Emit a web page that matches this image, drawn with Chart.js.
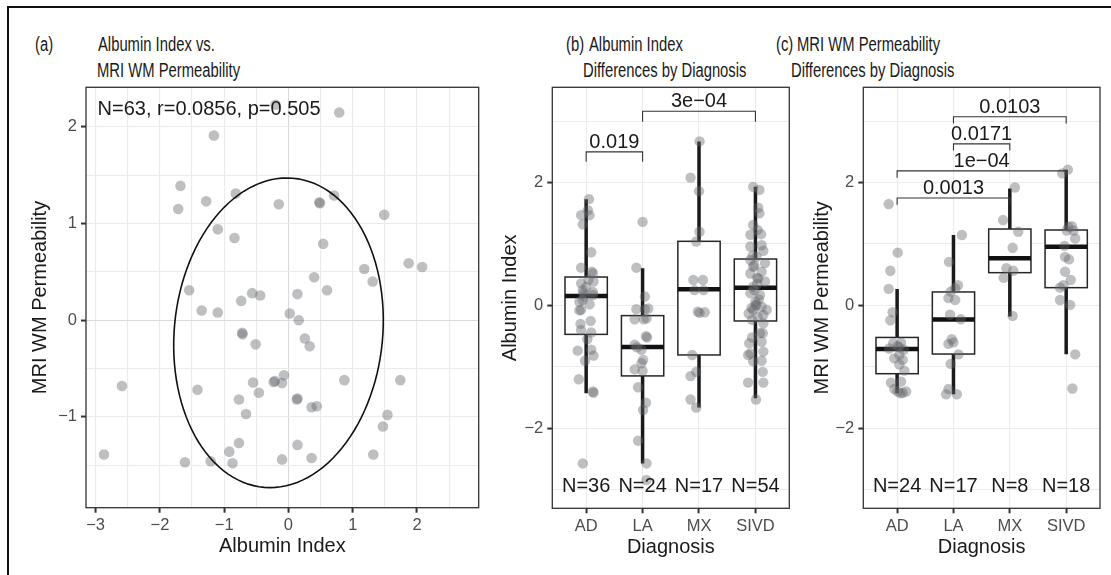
<!DOCTYPE html>
<html>
<head>
<meta charset="utf-8">
<script src="https://cdn.jsdelivr.net/npm/chart.js@4.4.1/dist/chart.umd.min.js"></script>
<style>
    html, body { margin: 0; padding: 0; background: #fff; }
    body { width: 1111px; height: 575px; position: relative; overflow: hidden; }
    #frame { position: absolute; left: 7px; top: 6px; width: 1200px; height: 700px; border-left: 2px solid #111; border-top: 2px solid #111; }
    canvas { position: absolute; top: 0; }
    .ttl { position: absolute; font-family: "Liberation Sans", Arial, sans-serif; font-size: 20px; color: #1a1a1a; white-space: pre; line-height: 26px; transform: scaleX(0.74); transform-origin: 0 0; }
</style>
</head>
<body>
<div id="frame"></div>
<div class="ttl" style="left:35px; top:31px;">(a)</div>
<div class="ttl" style="left:98px; top:31px;">Albumin Index vs.</div>
<div class="ttl" style="left:97px; top:57px;">MRI WM Permeability</div>
<div class="ttl" style="left:566px; top:31px;">(b)</div>
<div class="ttl" style="left:589px; top:31px;">Albumin Index</div>
<div class="ttl" style="left:583px; top:57px;">Differences by Diagnosis</div>
<div class="ttl" style="left:776px; top:31px;">(c)</div>
<div class="ttl" style="left:797px; top:31px;">MRI WM Permeability</div>
<div class="ttl" style="left:791px; top:57px;">Differences by Diagnosis</div>

<canvas id="chartA" width="490" height="575" style="left:0px;"></canvas>
<canvas id="chartB" width="310" height="575" style="left:490px;"></canvas>
<canvas id="chartC" width="311" height="575" style="left:800px;"></canvas>

<script>
// ---- Panel (a) data: Albumin Index vs MRI WM Permeability ----
const scatterX = [-0.20, 0.79, -1.16, -1.68, -1.28, -1.715, -0.82, -0.15, 0.48, 0.49,
    0.71, -1.10, -0.84, 0.54, 0.40, 0.60, -1.545, -0.565, -0.44, -0.735,
    0.14, -1.35, -1.10, 0.02, 0.16, 1.49, 1.18, 1.31, 1.87, 2.08,
    -0.715, -0.72, -0.51, 0.255, 0.33, -2.59, -1.415, -0.55, -0.23, -0.21,
    -0.10, -0.07, -0.46, -0.77, 0.13, 0.14, 0.36, 0.44, -0.66, 0.87,
    -0.77, -0.92, -0.87, -1.21, -1.61, -2.87, -0.10, 0.14, 0.36, 1.74,
    1.54, 1.47, 1.32];
const scatterY = [2.23, 2.15, 1.91, 1.39, 1.23, 1.15, 1.31, 1.20, 1.22, 1.21,
    1.29, 0.94, 0.85, 0.79, 0.445, 0.31, 0.31, 0.28, 0.255, 0.20,
    0.27, 0.10, 0.08, 0.07, 0.00, 1.09, 0.53, 0.40, 0.59, 0.55,
    -0.145, -0.13, -0.25, -0.19, -0.27, -0.68, -0.72, -0.645, -0.64, -0.63,
    -0.65, -0.57, -0.75, -0.82, -0.82, -0.81, -0.90, -0.89, -0.97, -0.62,
    -1.27, -1.36, -1.48, -1.46, -1.47, -1.39, -1.44, -1.29, -1.425, -0.62,
    -0.98, -1.10, -1.39];
const statLabel = 'N=63, r=0.0856, p=0.505';
const statLabelPos = [-2.97, 2.18];
// data ellipse: centre and two half-axis vectors (data units)
const ellipseCenter = [-0.155, -0.13];
const ellipseAxisU = [1.63, 0.08];
const ellipseAxisV = [0.05, 1.60];
const aXTicks = [-3, -2.5, -2, -1.5, -1, -0.5, 0, 0.5, 1, 1.5, 2, 2.5];
const aYTicks = [-1.5, -1, -0.5, 0, 0.5, 1, 1.5, 2];
const aMajor = [-3, -2, -1, 0, 1, 2];

// ---- Panels (b), (c): by diagnosis ----
const diagCats = ['AD', 'LA', 'MX', 'SIVD'];
const boxYTicks = [-3, -2, -1, 0, 1, 2, 3];
const boxMajor = [-2, 0, 2];

// (b) Albumin Index: values and horizontal jitter
const albAD = [1.73, 1.47, 1.47, 1.32, 1.55, 0.865, 0.615, 0.52, 0.36, 0.39,
    0.25, 0.06, -0.07, 0.17, 0.09, -0.08, 0.22, -0.40, -0.44, -0.735,
    -0.72, -0.815, -1.20, -1.40, -1.42, -2.57, 0.30, 0.15, 0.42, -0.25,
    -0.30, -0.55, 0.20, 0.55, -0.90, 0.02];
const albADJit = [0.05, -0.09, 0.06, -0.06, 0.03, 0.09, -0.09, 0.12, -0.09, 0.13,
    -0.06, -0.12, -0.09, 0.12, -0.06, -0.12, 0.12, -0.09, 0.09, -0.15,
    0.09, 0.13, -0.13, 0.12, 0.13, -0.06, 0.00, -0.03, 0.04, 0.08,
    -0.10, 0.02, -0.05, 0.10, -0.02, 0.06];
const albLA = [1.36, 0.615, 0.145, -0.06, -0.06, -0.225, -0.225, -0.21, -0.50, -0.52,
    -0.64, -0.72, -0.885, -0.94, -1.04, -1.065, -1.33, -1.58, -1.70, -2.20,
    -2.57, -2.84, -0.68, -0.05];
const albLAJit = [0.00, -0.11, 0.04, -0.11, 0.04, -0.14, 0.02, 0.07, 0.06, 0.08,
    -0.14, -0.02, 0.01, -0.02, -0.14, 0.00, -0.08, 0.06, 0.01, -0.08,
    0.07, 0.07, -0.10, 0.10];
const albMX = [2.67, 2.08, 1.86, 1.20, 1.04, 0.415, 0.415, 0.25, 0.25, -0.10,
    -0.12, -0.11, -0.805, -1.08, -1.15, -1.53, -1.66];
const albMXJit = [0.01, -0.15, 0.00, 0.01, -0.05, -0.10, 0.07, -0.08, 0.08, -0.02,
    0.01, 0.10, -0.12, -0.05, -0.15, -0.15, -0.05];
const albSIVD = [1.93, 1.88, 1.59, 1.50, 1.31, 1.23, 1.15, 1.16, 0.96, 0.98,
    0.89, 0.81, 0.79, 0.74, 0.69, 0.63, 0.55, 0.52, 0.44, 0.39,
    0.305, 0.20, 0.17, 0.06, -0.02, -0.07, -0.07, -0.13, -0.18, 0.01,
    -0.155, -0.235, -0.29, -0.45, -0.52, -0.45, -0.615, -0.59, -0.78, -0.75,
    -0.805, -0.91, -0.90, -1.08, -1.255, -1.255, -1.53, 0.35, 0.25, 0.10,
    -0.04, 0.45, 0.65, 0.00];
const albSIVDJit = [-0.04, 0.07, 0.05, 0.07, -0.04, 0.04, -0.09, 0.10, -0.09, 0.11,
    0.14, -0.05, 0.02, -0.09, 0.17, -0.04, 0.11, -0.09, 0.05, 0.17,
    -0.04, -0.09, 0.08, 0.00, 0.11, -0.04, 0.20, -0.12, 0.04, 0.02,
    0.14, -0.06, 0.14, 0.08, -0.06, 0.13, -0.11, 0.11, -0.09, 0.14,
    -0.13, -0.04, 0.11, 0.13, -0.13, 0.14, 0.01, 0.03, -0.02, 0.06,
    -0.07, 0.03, -0.02, 0.00];
// box stats (b)
const albLow = [-1.43, -2.57, -1.66, -1.51];
const albQ1 = [-0.47, -1.146, -0.805, -0.252];
const albMed = [0.154, -0.675, 0.263, 0.29];
const albQ3 = [0.463, -0.165, 1.044, 0.756];
const albHigh = [1.73, 0.605, 2.67, 1.93];
const albN = [36, 24, 17, 54];
// brackets (b): [from cat, to cat, bar y, tip y, label]
const albBrackets = [[1, 2, 2.50, 2.34, '0.019'], [2, 4, 3.16, 2.99, '3e\u221204']];

// (c) MRI WM Permeability
const permAD = [1.65, 0.86, 0.565, 0.27, -0.11, -0.24, -0.615, -0.605, -0.66, -0.70,
    -0.805, -0.885, -0.86, -0.96, -1.06, -1.255, -1.24, -1.40, -1.42, -1.40,
    -1.36, -1.43, -0.68, -0.72];
const permADJit = [-0.15, 0.01, -0.12, -0.15, -0.08, -0.12, -0.07, 0.07, 0.01, -0.14,
    0.04, 0.10, -0.05, 0.04, 0.13, -0.11, 0.07, 0.01, 0.10, 0.16,
    -0.05, 0.06, 0.03, 0.12];
const permLA = [1.146, 0.71, 0.33, 0.28, 0.225, 0.12, 0.09, -0.225, -0.15, -0.55,
    -0.60, -0.625, -0.795, -0.95, -1.36, -1.445, -1.445];
const permLAJit = [0.15, -0.08, 0.08, 0.03, -0.05, -0.09, 0.03, 0.13, -0.06, -0.03,
    0.00, -0.09, 0.09, -0.05, -0.09, -0.13, 0.06];
const permMX = [1.92, 1.39, 1.20, 0.94, 0.605, 0.565, 0.45, -0.17];
const permMXJit = [0.09, -0.12, 0.15, 0.05, -0.06, 0.06, -0.11, 0.05];
const permSIVD = [2.15, 2.21, 1.28, 1.29, 1.22, 1.22, 1.09, 0.79, 0.55, 0.415,
    0.29, 0.33, 0.09, 0.01, -0.795, -1.35, 0.97, 0.75];
const permSIVDJit = [-0.07, 0.03, 0.04, 0.10, 0.01, 0.13, 0.16, -0.02, -0.02, 0.08,
    -0.11, -0.05, -0.11, 0.07, 0.16, 0.11, -0.03, 0.05];
const permLow = [-1.43, -1.445, -0.18, -0.795];
const permQ1 = [-1.11, -0.79, 0.534, 0.29];
const permMed = [-0.71, -0.23, 0.767, 0.956];
const permQ3 = [-0.52, 0.22, 1.244, 1.228];
const permHigh = [0.27, 1.146, 1.905, 2.21];
const permN = [24, 17, 8, 18];
const permBrackets = [[2, 4, 3.07, 2.96, '0.0103'], [2, 3, 2.63, 2.52, '0.0171'],
    [1, 4, 2.19, 2.08, '1e\u221204'], [1, 3, 1.75, 1.64, '0.0013']];
const nLabelY = -2.94;

// ---- Styling ----
const FONT = '"Liberation Sans", Arial, sans-serif';
const TEXT = '#1a1a1a';
const TICK_TEXT = '#4d4d4d';
const GRID = '#ebebeb';
const POINT = 'rgba(100, 102, 108, 0.42)';

function fmt(v) {
    return String(v).replace('-', '\u2212');
}

function toPoints(vals, jit, cat) {
    return vals.map((v, i) => ({ x: cat + jit[i], y: v }));
}

// Panel border
const framePlugin = {
    id: 'frame',
    afterDraw(chart) {
        const a = chart.chartArea;
        const ctx = chart.ctx;
        ctx.save();
        ctx.strokeStyle = '#333';
        ctx.lineWidth = 1.3;
        ctx.strokeRect(a.left, a.top, a.right - a.left, a.bottom - a.top);
        ctx.restore();
    }
};

// Ellipse + stats label for (a)
const ellipsePlugin = {
    id: 'ellipse',
    afterDatasetsDraw(chart) {
        const xs = chart.scales.x, ys = chart.scales.y;
        const ctx = chart.ctx;
        ctx.save();
        ctx.beginPath();
        for (let k = 0; k <= 120; k++) {
            const t = k / 120 * Math.PI * 2;
            const dx = ellipseCenter[0] + ellipseAxisU[0] * Math.cos(t) + ellipseAxisV[0] * Math.sin(t);
            const dy = ellipseCenter[1] + ellipseAxisU[1] * Math.cos(t) + ellipseAxisV[1] * Math.sin(t);
            const px = xs.getPixelForValue(dx), py = ys.getPixelForValue(dy);
            if (k === 0) ctx.moveTo(px, py); else ctx.lineTo(px, py);
        }
        ctx.closePath();
        ctx.strokeStyle = '#111';
        ctx.lineWidth = 1.6;
        ctx.stroke();

        ctx.fillStyle = TEXT;
        ctx.font = '20px ' + FONT;
        ctx.textAlign = 'left';
        ctx.textBaseline = 'middle';
        ctx.fillText(statLabel, xs.getPixelForValue(statLabelPos[0]), ys.getPixelForValue(statLabelPos[1]));
        ctx.restore();
    }
};

// Box plots, brackets and N labels for (b), (c)
function boxPlugin(low, q1, med, q3, high, nArr, brackets) {
    return {
        id: 'boxes',
        beforeDatasetsDraw(chart) {
            const xs = chart.scales.x, ys = chart.scales.y;
            const ctx = chart.ctx;
            const half = (xs.getPixelForValue(1.375) - xs.getPixelForValue(1));
            ctx.save();
            for (let i = 0; i < diagCats.length; i++) {
                const cx = xs.getPixelForValue(i + 1);
                const yQ1 = ys.getPixelForValue(q1[i]), yQ3 = ys.getPixelForValue(q3[i]);
                // whiskers
                ctx.strokeStyle = '#1a1a1a';
                ctx.lineWidth = 3.5;
                ctx.beginPath();
                ctx.moveTo(cx, ys.getPixelForValue(high[i]));
                ctx.lineTo(cx, yQ3);
                ctx.moveTo(cx, yQ1);
                ctx.lineTo(cx, ys.getPixelForValue(low[i]));
                ctx.stroke();
                // box
                ctx.fillStyle = '#fff';
                ctx.fillRect(cx - half, yQ3, half * 2, yQ1 - yQ3);
                ctx.lineWidth = 1.5;
                ctx.strokeStyle = '#262626';
                ctx.strokeRect(cx - half, yQ3, half * 2, yQ1 - yQ3);
                // median
                ctx.lineWidth = 4.5;
                ctx.strokeStyle = '#111';
                ctx.beginPath();
                const ym = ys.getPixelForValue(med[i]);
                ctx.moveTo(cx - half, ym);
                ctx.lineTo(cx + half, ym);
                ctx.stroke();
            }
            ctx.restore();
        },
        afterDatasetsDraw(chart) {
            const xs = chart.scales.x, ys = chart.scales.y;
            const ctx = chart.ctx;
            ctx.save();
            ctx.font = '20px ' + FONT;
            ctx.fillStyle = TEXT;
            ctx.textAlign = 'center';
            ctx.textBaseline = 'middle';
            nArr.forEach((n, i) => {
                ctx.fillText('N=' + n, xs.getPixelForValue(i + 1), ys.getPixelForValue(nLabelY));
            });
            brackets.forEach(b => {
                const x1 = xs.getPixelForValue(b[0]), x2 = xs.getPixelForValue(b[1]);
                const yb = ys.getPixelForValue(b[2]), yt = ys.getPixelForValue(b[3]);
                ctx.strokeStyle = '#333';
                ctx.lineWidth = 1.1;
                ctx.beginPath();
                ctx.moveTo(x1, yt);
                ctx.lineTo(x1, yb);
                ctx.lineTo(x2, yb);
                ctx.lineTo(x2, yt);
                ctx.stroke();
                ctx.textBaseline = 'alphabetic';
                ctx.fillText(b[4], (x1 + x2) / 2, yb - 3.8);
            });
            ctx.restore();
        }
    };
}

function tickFont() {
    return { family: FONT, size: 16.5 };
}

function titleOpts(text, padTop) {
    return { display: true, text: text, color: TEXT, font: { family: FONT, size: 20 }, padding: { top: padTop, bottom: 4 } };
}

function gridOpts(majors, zeroColor) {
    return {
        color: ctx => (zeroColor && ctx.tick && ctx.tick.value === 0) ? zeroColor : GRID,
        lineWidth: 1.1,
        tickLength: 5,
        tickWidth: 2,
        tickColor: ctx => (ctx.tick && majors.includes(ctx.tick.value)) ? '#333' : 'rgba(0,0,0,0)'
    };
}

function baseOptions(padding) {
    return {
        responsive: false,
        animation: false,
        devicePixelRatio: 1,
        layout: { padding: padding },
        plugins: { legend: { display: false }, tooltip: { enabled: false } },
        events: []
    };
}

// ---- Chart (a) ----
const optsA = baseOptions({ left: 10, top: 87.3, right: 11.3, bottom: 12.3 });
optsA.scales = {
    x: {
        type: 'linear', min: -3.15, max: 2.96,
        afterBuildTicks: s => { s.ticks = aXTicks.map(v => ({ value: v })); },
        afterFit: s => { s.height = 55; },
        grid: gridOpts(aMajor, '#d9dadd'),
        border: { display: false },
        ticks: { autoSkip: false, maxRotation: 0, padding: 3, color: TICK_TEXT, font: tickFont(),
            callback: v => aMajor.includes(v) ? fmt(v) : '' },
        title: titleOpts('Albumin Index', 0)
    },
    y: {
        type: 'linear', min: -1.94, max: 2.41,
        afterBuildTicks: s => { s.ticks = aYTicks.map(v => ({ value: v })); },
        afterFit: s => { s.width = 76; },
        grid: gridOpts(aMajor, '#d9dadd'),
        border: { display: false },
        ticks: { autoSkip: false, padding: 4, color: TICK_TEXT, font: tickFont(),
            callback: v => aMajor.includes(v) ? fmt(v) : '' },
        title: titleOpts('MRI WM Permeability', 18)
    }
};
new Chart(document.getElementById('chartA'), {
    type: 'scatter',
    data: {
        datasets: [{
            data: scatterX.map((x, i) => ({ x: x, y: scatterY[i] })),
            backgroundColor: POINT,
            borderWidth: 0,
            pointRadius: 5.3
        }]
    },
    options: optsA,
    plugins: [ellipsePlugin, framePlugin]
});

// ---- Charts (b), (c) ----
function boxChart(canvasId, groups, jits, yTitle, padding, yAxisWidth, titlePad, plugin) {
    const opts = baseOptions(padding);
    opts.scales = {
        x: {
            type: 'linear', min: 0.4, max: 4.6,
            afterBuildTicks: s => { s.ticks = diagCats.map((c, i) => ({ value: i + 1 })); },
            afterFit: s => { s.height = 55; },
            grid: gridOpts([1, 2, 3, 4], null),
            border: { display: false },
            ticks: { autoSkip: false, maxRotation: 0, padding: 3, color: TICK_TEXT, font: tickFont(),
                callback: v => diagCats[v - 1] },
            title: titleOpts('Diagnosis', 0)
        },
        y: {
            type: 'linear', min: -3.30, max: 3.55,
            afterBuildTicks: s => { s.ticks = boxYTicks.map(v => ({ value: v })); },
            afterFit: s => { s.width = yAxisWidth; },
            grid: gridOpts(boxMajor, null),
            border: { display: false },
            ticks: { autoSkip: false, padding: 4, color: TICK_TEXT, font: tickFont(),
                callback: v => boxMajor.includes(v) ? fmt(v) : '' },
            title: titleOpts(yTitle, titlePad)
        }
    };
    const pts = [];
    groups.forEach((g, i) => { pts.push(...toPoints(g, jits[i], i + 1)); });
    return new Chart(document.getElementById(canvasId), {
        type: 'scatter',
        data: { datasets: [{ data: pts, backgroundColor: POINT, borderWidth: 0, pointRadius: 5.2 }] },
        options: opts,
        plugins: [plugin, framePlugin]
    });
}

boxChart('chartB', [albAD, albLA, albMX, albSIVD], [albADJit, albLAJit, albMXJit, albSIVDJit],
    'Albumin Index', { left: 0, top: 87.3, right: 10.7, bottom: 11.7 }, 62.3, 8,
    boxPlugin(albLow, albQ1, albMed, albQ3, albHigh, albN, albBrackets));

boxChart('chartC', [permAD, permLA, permMX, permSIVD], [permADJit, permLAJit, permMXJit, permSIVDJit],
    'MRI WM Permeability', { left: 0, top: 87.3, right: 11, bottom: 11.7 }, 63.3, 10,
    boxPlugin(permLow, permQ1, permMed, permQ3, permHigh, permN, permBrackets));
</script>
</body>
</html>
